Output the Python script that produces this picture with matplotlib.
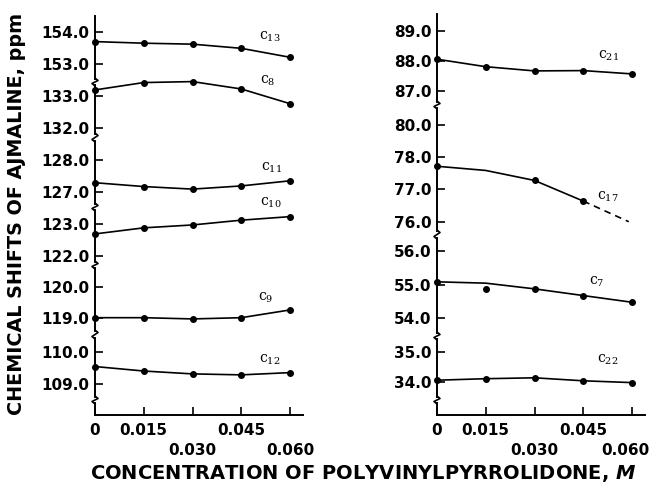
import matplotlib
matplotlib.use("Agg")
import matplotlib.pyplot as plt
from matplotlib.transforms import ScaledTranslation

plt.rcParams["font.family"] = ["DejaVu Sans"]
plt.rcParams["mathtext.fontset"] = "custom"
plt.rcParams["mathtext.rm"] = "DejaVu Serif"
plt.rcParams["mathtext.it"] = "DejaVu Sans:italic:bold"

W, H, DPI = 652, 487, 100

# ── data: concentration of PVP (M) and 13C shifts of ajmaline (ppm) ──
conc = [0.0, 0.015, 0.030, 0.045, 0.060]
conc_upper = [0.0, 0.015, 0.045]       # labels on first row
conc_upper_labels = ["0", "0.015", "0.045"]
conc_lower = [0.030, 0.060]            # labels on second row
conc_lower_labels = ["0.030", "0.060"]

# left panel
c13 = [153.70, 153.65, 153.62, 153.49, 153.21]
c8 = [133.19, 133.42, 133.45, 133.22, 132.76]
c11 = [127.29, 127.17, 127.09, 127.19, 127.35]
c10 = [122.69, 122.88, 122.97, 123.12, 123.23]
c9 = [119.01, 119.01, 118.97, 119.01, 119.26]
c12 = [109.53, 109.39, 109.30, 109.27, 109.34]

# right panel
c21 = [88.06, 87.81, 87.67, 87.68, 87.57]
c17_conc = [0.0, 0.030, 0.045]
c17 = [77.72, 77.28, 76.64]
c17_line_conc = [0.0, 0.015, 0.030, 0.045]
c17_line = [77.72, 77.59, 77.28, 76.64]
c17_extrap_conc = [0.045, 0.059]
c17_extrap = [76.64, 76.00]
c7 = [55.08, 54.86, 54.87, 54.67, 54.47]
c7_line = [55.08, 55.04, 54.87, 54.67, 54.47]
c22 = [34.05, 34.10, 34.13, 34.03, 33.97]

left_ticks = [[154.0, 153.0], [133.0, 132.0], [128.0, 127.0],
              [123.0, 122.0], [120.0, 119.0], [110.0, 109.0]]
right_ticks = [[89.0, 88.0, 87.0], [79.0, 78.0, 77.0, 76.0],
               [56.0, 55.0, 54.0], [35.0, 34.0]]
right_tick_labels = [["89.0", "88.0", "87.0"],
                     ["80.0", "78.0", "77.0", "76.0"],
                     ["56.0", "55.0", "54.0"],
                     ["35.0", "34.0"]]

# ── layout (pixels from top-left) ──
XMAX = 0.064
LEFT_X = (95, 303)
RIGHT_X = (437, 645)
# (top, bottom, px of first tick, px of last tick)
LEFT_SEGS = [(16, 79, 32, 64), (85, 134, 96, 128), (141, 204, 160, 192),
             (210, 262, 224, 256), (268, 331, 287, 318), (338, 397, 351.5, 383.5)]
RIGHT_SEGS = [(14, 102, 31, 91), (108, 231, 125, 221.7),
              (238, 333, 251, 318), (339, 397, 351.7, 381.7)]
STUB = (403, 415)

TICK_FS = 11
LINE_KW = dict(color="black", lw=1.2, clip_on=False)
DOT_KW = dict(color="black", marker="o", ms=4, ls="none", clip_on=False)


def px_axes(fig, x0, x1, y0, y1):
    return fig.add_axes([x0 / W, 1 - y1 / H, (x1 - x0) / W, (y1 - y0) / H])


def style_seg(ax, ticks, labels, seg):
    top, bot, p0, p1 = seg
    v0, v1 = ticks[0], ticks[-1]
    s = (p1 - p0) / (v0 - v1)
    ax.set_ylim(v0 - (bot - p0) / s, v0 + (p0 - top) / s)
    ax.set_xlim(0, XMAX)
    ax.patch.set_alpha(0)
    for side in ("top", "right", "bottom"):
        ax.spines[side].set_visible(False)
    ax.spines["left"].set_linewidth(1.4)
    ax.set_xticks([])
    ax.set_yticks(ticks)
    ax.set_yticklabels(labels if labels else [f"{t:.1f}" for t in ticks])
    ax.tick_params(axis="y", direction="in", length=6, width=1.2, pad=4,
                   labelsize=TICK_FS)
    for t in ax.get_yticklabels():
        t.set_fontweight("bold")


def stub_axis(fig, xspan, last_shift=0):
    ax = px_axes(fig, xspan[0], xspan[1], STUB[0], STUB[1])
    ax.set_xlim(0, XMAX)
    ax.set_ylim(0, 1)
    ax.patch.set_alpha(0)
    for side in ("top", "right"):
        ax.spines[side].set_visible(False)
    ax.spines["left"].set_linewidth(1.4)
    ax.spines["bottom"].set_linewidth(1.4)
    ax.set_yticks([])
    ax.set_xticks(conc_upper)
    ax.set_xticklabels(conc_upper_labels, fontsize=TICK_FS, fontweight="bold")
    ax.set_xticks(conc_lower, minor=True)
    ax.set_xticklabels(conc_lower_labels, minor=True, fontsize=TICK_FS,
                       fontweight="bold")
    ax.tick_params(axis="x", which="major", direction="in", length=6,
                   width=1.2, pad=6)
    ax.tick_params(axis="x", which="minor", direction="in", length=6,
                   width=1.2, pad=20.5)
    if last_shift:
        lab = ax.get_xticklabels(minor=True)[-1]
        lab.set_transform(lab.get_transform() +
                          ScaledTranslation(last_shift / DPI, 0, fig.dpi_scale_trans))
    return ax


def break_marks(ov, x, segs):
    tops = [s[0] for s in segs[1:]] + [STUB[0]]
    bots = [s[1] for s in segs]
    for g0, g1 in zip(bots, tops):
        ov.plot([x, x + 3, x - 3, x], [g0 - 1, g0 + 1.5, g1 - 1.5, g1 + 1],
                color="black", lw=1.2)


fig = plt.figure(figsize=(W / DPI, H / DPI), dpi=DPI)

left_series = [c13, c8, c11, c10, c9, c12]
left_names = ["13", "8", "11", "10", "9", "12"]
left_label_px = [(270, 37), (268, 81), (271, 168), (271, 203), (266, 298), (270, 360)]

for vals, ticks, seg in zip(left_series, left_ticks, LEFT_SEGS):
    ax = px_axes(fig, LEFT_X[0], LEFT_X[1], seg[0], seg[1])
    style_seg(ax, ticks, None, seg)
    ax.plot(conc, vals, **LINE_KW)
    ax.plot(conc, vals, **DOT_KW)

right_axes = []
for ticks, labels, seg in zip(right_ticks, right_tick_labels, RIGHT_SEGS):
    ax = px_axes(fig, RIGHT_X[0], RIGHT_X[1], seg[0], seg[1])
    style_seg(ax, ticks, labels, seg)
    right_axes.append(ax)

ax21, ax17, ax7, ax22 = right_axes
ax21.plot(conc, c21, **LINE_KW)
ax21.plot(conc, c21, **DOT_KW)
ax17.plot(c17_line_conc, c17_line, **LINE_KW)
ax17.plot(c17_extrap_conc, c17_extrap, color="black", lw=1.2, ls=(0, (4, 3)))
ax17.plot(c17_conc, c17, **DOT_KW)
ax7.plot(conc, c7_line, **LINE_KW)
ax7.plot(conc, c7, **DOT_KW)
ax22.plot(conc, c22, **LINE_KW)
ax22.plot(conc, c22, **DOT_KW)

right_names = ["21", "17", "7", "22"]
right_label_px = [(608, 56), (608, 197), (597, 282), (608, 360)]

stub_axis(fig, LEFT_X)
stub_axis(fig, RIGHT_X, last_shift=-7)

# overlay in pixel coordinates for breaks and curve labels
ov = fig.add_axes([0, 0, 1, 1])
ov.set_xlim(0, W)
ov.set_ylim(H, 0)
ov.axis("off")
ov.patch.set_alpha(0)
break_marks(ov, LEFT_X[0], LEFT_SEGS)
break_marks(ov, RIGHT_X[0], RIGHT_SEGS)

for name, (x, y) in zip(left_names + right_names, left_label_px + right_label_px):
    ov.text(x, y, r"c$_{%s}$" % name, fontsize=10, family="DejaVu Serif",
            ha="center", va="center")

fig.text(17 / W, 1 - 214 / H, "CHEMICAL SHIFTS OF AJMALINE, ppm",
         rotation=90, ha="center", va="center", fontsize=13.8, fontweight="bold")
fig.text(363 / W, 1 - 474 / H, r"CONCENTRATION OF POLYVINYLPYRROLIDONE, $\mathit{M}$",
         ha="center", va="center", fontsize=14, fontweight="bold")
fig.savefig("out.png", dpi=DPI)
